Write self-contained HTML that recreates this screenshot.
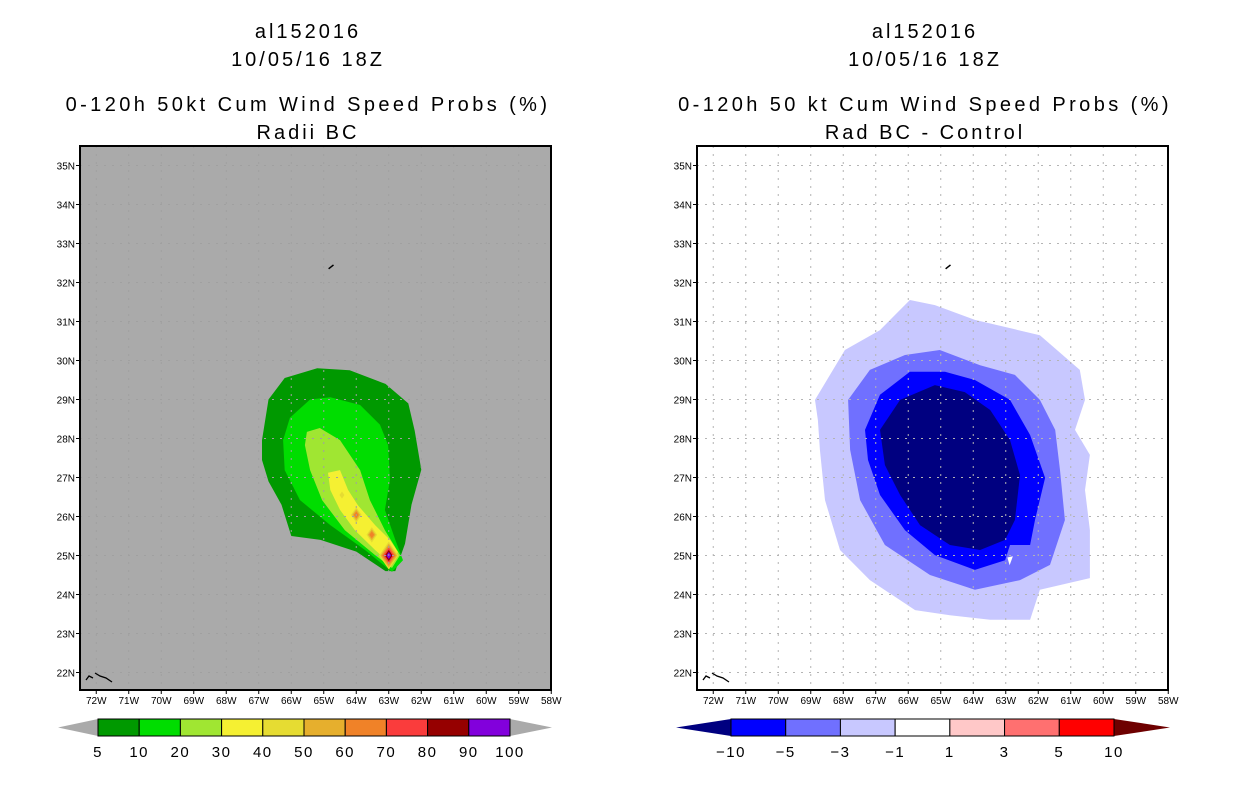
<!DOCTYPE html>
<html><head><meta charset="utf-8">
<style>
html,body{margin:0;padding:0;background:#fff;}
body{width:1236px;height:800px;overflow:hidden;}
svg text{font-family:"Liberation Sans","DejaVu Sans",sans-serif;}
</style></head>
<body>
<svg id="chart" width="1236" height="800" xmlns="http://www.w3.org/2000/svg"></svg>
<script>
// ---------- DATA ----------
const latTicks = [35,34,33,32,31,30,29,28,27,26,25,24,23,22];
const lonTicks = [72,71,70,69,68,67,66,65,64,63,62,61,60,59,58];
const leftTitles = ["al152016","10/05/16 18Z","0-120h 50kt Cum Wind Speed Probs (%)","Radii BC"];
const rightTitles = ["al152016","10/05/16 18Z","0-120h 50 kt Cum Wind Speed Probs (%)","Rad BC - Control"];
const leftLevels = ["5","10","20","30","40","50","60","70","80","90","100"];
const leftColors = ["#009900","#00dd00","#a0e632","#f5f032","#e6dc32","#e6af2d","#f08228","#fa3c3c","#960000","#8200dc"];
const rightLevels = ["-10","-5","-3","-1","1","3","5","10"];
const rightColors = ["#0000ff","#7070ff","#c8c8ff","#ffffff","#ffc8c8","#ff7070","#ff0000"];
const prob5 = [[-66.9,27.96],[-66.7,29.0],[-66.2,29.55],[-65.2,29.8],[-64.2,29.75],[-63.1,29.4],[-62.4,28.9],[-62.2,28.2],[-62.0,27.2],[-62.3,26.3],[-62.5,25.3],[-62.8,24.6],[-63.1,24.6],[-64.0,25.1],[-65.1,25.4],[-66.0,25.5],[-66.3,26.3],[-66.7,26.9],[-66.9,27.45]];
const prob10 = [[-66.25,27.96],[-66.04,28.53],[-65.42,29.0],[-64.8,29.06],[-63.88,28.86],[-63.27,28.35],[-63.02,27.83],[-62.96,26.94],[-63.12,26.17],[-62.8,25.4],[-62.56,24.88],[-62.9,24.58],[-63.73,25.14],[-64.8,25.78],[-65.73,26.42],[-66.2,27.19]];
const prob20 = [[-65.52,28.17],[-65.12,28.27],[-64.5,27.96],[-63.88,27.19],[-63.58,26.42],[-63.12,25.65],[-62.65,25.01],[-62.9,24.68],[-63.42,25.01],[-64.35,25.65],[-65.05,26.42],[-65.42,27.19],[-65.58,27.83]];
const prob30 = [[-64.87,27.12],[-64.5,27.19],[-64.25,26.68],[-63.95,26.29],[-63.42,25.78],[-62.96,25.4],[-62.72,25.09],[-62.9,24.76],[-63.42,25.14],[-64.04,25.65],[-64.5,26.17],[-64.8,26.68]];
const peakLon = [-64.44,-64.0,-63.52,-63.0];
const peakLat = [26.55,26.04,25.53,25.0];
const peakLvl = [4,6,6,9];
const diff1 = [[-68.87,28.99],[-67.95,30.27],[-66.87,30.78],[-65.95,31.55],[-65.18,31.42],[-63.95,31.04],[-61.95,30.65],[-60.72,29.76],[-60.56,28.99],[-60.87,28.22],[-60.41,27.58],[-60.56,26.68],[-60.41,25.65],[-60.41,24.42],[-61.95,24.12],[-62.25,23.35],[-63.48,23.35],[-64.72,23.47],[-65.79,23.6],[-67.18,24.37],[-68.1,25.14],[-68.56,26.42],[-68.72,27.71],[-68.78,28.47]];
const diff3 = [[-67.85,28.99],[-67.18,29.76],[-66.1,30.14],[-65.03,30.27],[-63.79,29.88],[-62.72,29.63],[-61.95,28.99],[-61.48,28.22],[-61.33,27.19],[-61.18,25.91],[-61.64,24.76],[-62.56,24.37],[-63.95,24.12],[-65.33,24.5],[-66.72,25.27],[-67.48,26.42],[-67.79,27.71]];
const diff5 = [[-67.33,28.22],[-66.87,29.12],[-65.95,29.71],[-64.87,29.71],[-63.95,29.5],[-62.87,28.99],[-62.25,28.09],[-61.79,26.99],[-62.1,25.91],[-62.25,25.27],[-62.87,25.27],[-63.02,24.88],[-63.95,24.63],[-65.18,25.01],[-66.1,25.65],[-66.87,26.55],[-67.24,27.45]];
const diff10 = [[-66.87,28.22],[-66.25,28.99],[-65.18,29.37],[-64.26,29.19],[-63.48,28.73],[-62.87,27.96],[-62.56,27.06],[-62.72,25.91],[-63.02,25.4],[-63.79,25.14],[-64.72,25.27],[-65.64,25.78],[-66.25,26.55],[-66.72,27.32]];
const diffWhite = [[-62.95,24.95],[-62.78,24.98],[-62.88,24.75]];
const bermuda = [[-64.85,32.35],[-64.7,32.45]];

// ---------- HELPERS ----------
const NS="http://www.w3.org/2000/svg";
const svg=document.getElementById('chart');
function mk(tag,attrs,parent){const e=document.createElementNS(NS,tag);for(const k in attrs)e.setAttribute(k,attrs[k]);(parent||svg).appendChild(e);return e;}
const LON0=-72.5, LAT1=35.5, PXLON=32.5, PXLAT=39;
function makeAxes(x0){return {x:lon=>x0+(lon-LON0)*PXLON, y:lat=>146+(LAT1-lat)*PXLAT};}
function poly(ax,pts,fill,g,name){
  const p=mk('polygon',{points:pts.map(q=>ax.x(q[0]).toFixed(1)+','+ax.y(q[1]).toFixed(1)).join(' '),fill:fill},g);
  
  
}

function panel(x0,bg,titles,cx,gridCol,isLeft){
  const ax=makeAxes(x0);
  const g=mk('g',{});
  
  
  const ys=[38,66,111,139];
  titles.forEach((t,i)=>{const e=mk('text',{x:cx,y:ys[i],'text-anchor':'middle','font-size':20,'letter-spacing':(i==2?3.4:3),fill:'#000'},g);e.textContent=t;
    
    });
  const r=mk('rect',{x:x0,y:146,width:471,height:544,fill:bg},g);
  
  
  if(isLeft){
    poly(ax,prob5,leftColors[0],g,'contour-5');
    poly(ax,prob10,leftColors[1],g,'contour-10');
    poly(ax,prob20,leftColors[2],g,'contour-20');
    poly(ax,prob30,leftColors[3],g,'contour-30');
    peakLon.forEach((lo,i)=>{
      for(let k=4;k<=peakLvl[i];k++){
        const s=(peakLvl[i]-k+1)*0.045+0.03;
        poly(ax,[[lo,peakLat[i]+s*1.2],[lo+s,peakLat[i]],[lo,peakLat[i]-s*1.2],[lo-s,peakLat[i]]],leftColors[k],g,'peak-'+i+'-level-'+k);
      }
    });
  } else {
    poly(ax,diff1,rightColors[2],g,'contour-minus1');
    poly(ax,diff3,rightColors[1],g,'contour-minus3');
    poly(ax,diff5,rightColors[0],g,'contour-minus5');
    poly(ax,diff10,'#000080',g,'contour-minus10');
    poly(ax,diffWhite,'#ffffff',g,'contour-white-notch');
  }
  lonTicks.forEach(l=>{const x=ax.x(-l);const e=mk('line',{x1:x,y1:146,x2:x,y2:690,stroke:gridCol,'stroke-width':1,'stroke-dasharray':'2,6'},g);
    });
  latTicks.forEach(l=>{const y=ax.y(l);const e=mk('line',{x1:x0,y1:y,x2:x0+471,y2:y,stroke:gridCol,'stroke-width':1,'stroke-dasharray':'2,6'},g);
    });
  const b=mk('line',{x1:ax.x(bermuda[0][0]),y1:ax.y(bermuda[0][1]),x2:ax.x(bermuda[1][0]),y2:ax.y(bermuda[1][1]),stroke:'#000','stroke-width':1.5},g);
  
  const ba=mk('path',{d:`M${x0+6},${680} l3,-4 l4,2 M${x0+15},${673} l5,3 l6,2 l6,4`,stroke:'#000','stroke-width':1.3,fill:'none'},g);
  
  const bd=mk('rect',{x:x0,y:146,width:471,height:544,fill:'none',stroke:'#000','stroke-width':2},g);
  
  latTicks.forEach(l=>{const y=ax.y(l);
    mk('line',{x1:x0-4,y1:y,x2:x0,y2:y,stroke:'#000'},g);
    const e=mk('text',{x:x0-5,y:y+4,'text-anchor':'end','font-size':10},g);e.textContent=l+'N';
    });
  lonTicks.forEach(l=>{const x=ax.x(-l);
    mk('line',{x1:x,y1:690,x2:x,y2:694,stroke:'#000'},g);
    const e=mk('text',{x:x,y:704,'text-anchor':'middle','font-size':10},g);e.textContent=l+'W';
    });
}
panel(80,'#aaaaaa',leftTitles,308,'#a0a0a0',true);
panel(697,'#ffffff',rightTitles,925,'#b4b4b4',false);

function colorbar(xL,xR,b0,b1,cols,labels,lc,rc,name){
  const g=mk('g',{});
  
  
  const y0=719,y1=736,ym=(y0+y1)/2;
  const lt=mk('polygon',{points:`${xL},${ym} ${b0},${y0} ${b0},${y1}`,fill:lc},g);
  
  const rt=mk('polygon',{points:`${xR},${ym} ${b1},${y0} ${b1},${y1}`,fill:rc},g);
  
  const w=(b1-b0)/cols.length;
  cols.forEach((c,i)=>{const r=mk('rect',{x:b0+i*w,y:y0,width:w,height:y1-y0,fill:c,stroke:'#000','stroke-width':1},g);
    });
  labels.forEach((t,i)=>{const e=mk('text',{x:b0+i*w,y:757,'text-anchor':'middle','font-size':15,'letter-spacing':1.5},g);e.textContent=t.replace('-','\u2212');
    });
}
colorbar(58,552,98,510,leftColors,leftLevels,'#aaaaaa','#aaaaaa','left-colorbar');
colorbar(676,1170,731,1114,rightColors,rightLevels,'#000080','#6e0000','right-colorbar');
</script>
</body></html>
